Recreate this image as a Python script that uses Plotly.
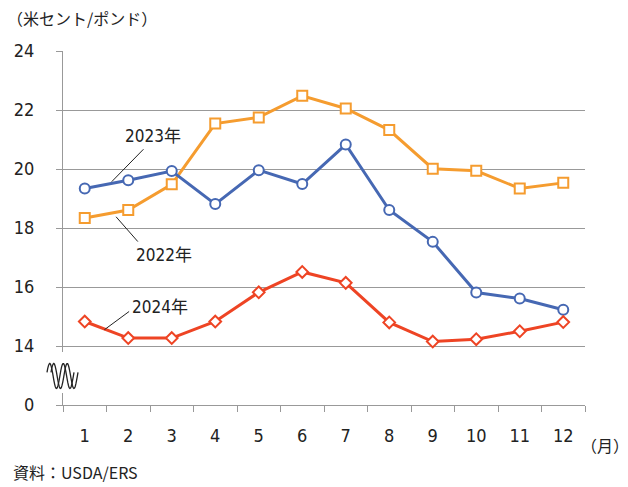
import numpy as np
import plotly.graph_objects as go

months = list(range(1, 13))
month_labels = [str(m) for m in months]
y2023 = [19.34, 19.62, 19.93, 18.81, 19.96, 19.49, 20.83, 18.61, 17.53, 15.81, 15.61, 15.23]
y2022 = [18.34, 18.61, 19.48, 21.54, 21.75, 22.48, 22.05, 21.32, 20.01, 19.94, 19.34, 19.53]
y2024 = [14.83, 14.27, 14.27, 14.83, 15.82, 16.51, 16.14, 14.80, 14.15, 14.23, 14.50, 14.81]
ytick_vals = [12, 14, 16, 18, 20, 22, 24]
ytick_text = ["0", "14", "16", "18", "20", "22", "24"]

BLUE = "#4668B3"
ORANGE = "#F59C2F"
RED = "#EE4424"
GRID = "#999999"
FONT = "DejaVu Sans Condensed, Roboto, sans-serif"
LFONT = "DejaVu Sans Condensed, Roboto, Noto Sans CJK JP, sans-serif"
JFONT = "Noto Sans CJK JP, sans-serif"

fig = go.Figure()
fig.add_trace(go.Scatter(x=months, y=y2022, mode="lines+markers",
                         line=dict(color=ORANGE, width=3),
                         marker=dict(symbol="square", size=10, color="white",
                                     line=dict(color=ORANGE, width=2)),
                         showlegend=False))
fig.add_trace(go.Scatter(x=months, y=y2023, mode="lines+markers",
                         line=dict(color=BLUE, width=3),
                         marker=dict(symbol="circle", size=10, color="white",
                                     line=dict(color=BLUE, width=2)),
                         showlegend=False))
fig.add_trace(go.Scatter(x=months, y=y2024, mode="lines+markers",
                         line=dict(color=RED, width=3),
                         marker=dict(symbol="diamond", size=9, color="white",
                                     line=dict(color=RED, width=2)),
                         showlegend=False))

L, R, T, B = 63, 43, 51, 82
W, H = 628, 487
pw, ph = W - L - R, H - T - B

def px(xp):
    return (xp - L) / pw

def py(yp):
    return (H - B - yp) / ph

shapes = []
# leader lines (data coords)
for (x0, y0, x1, y1) in [(1.62, 19.57, 2.35, 20.67), (1.72, 18.38, 2.22, 17.54), (1.45, 14.55, 2.02, 15.17)]:
    shapes.append(dict(type="line", xref="x", yref="y", x0=x0, y0=y0, x1=x1, y1=y1,
                       line=dict(color="#222222", width=1)))

# axis break: white cover over axis, then double wavy line
shapes.append(dict(type="rect", xref="paper", yref="paper",
                   x0=px(58), x1=px(68), y0=py(393), y1=py(352),
                   fillcolor="white", line=dict(width=0), layer="above"))
t = np.linspace(0, 1, 40)
for off in (0, 4):
    xs = 47 + off + 27 * t
    ys = 376 - 12.5 * np.sin(2 * np.pi * 2 * t + 0.3)
    path = "M " + " L ".join(f"{px(a):.5f},{py(b):.5f}" for a, b in zip(xs, ys))
    shapes.append(dict(type="path", xref="paper", yref="paper", path=path,
                       line=dict(color="#222222", width=1.3), layer="above"))

annotations = [
    dict(x=2.57, y=21.13, xref="x", yref="y", text="2023年", showarrow=False,
         font=dict(family=LFONT, size=17, color="#222222")),
    dict(x=2.83, y=17.09, xref="x", yref="y", text="2022年", showarrow=False,
         font=dict(family=LFONT, size=17, color="#222222")),
    dict(x=2.74, y=15.31, xref="x", yref="y", text="2024年", showarrow=False,
         font=dict(family=LFONT, size=17, color="#222222")),
    dict(x=px(5), y=py(18), xref="paper", yref="paper", text="（米セント/ポンド）",
         showarrow=False, xanchor="left", yanchor="middle",
         font=dict(family=JFONT, size=16, color="#222222")),
    dict(x=px(579), y=py(445), xref="paper", yref="paper", text="（月）",
         showarrow=False, xanchor="left", yanchor="middle",
         font=dict(family=JFONT, size=16, color="#222222")),
    dict(x=px(11), y=py(472), xref="paper", yref="paper", text="資料：USDA/ERS",
         showarrow=False, xanchor="left", yanchor="middle",
         font=dict(family=JFONT, size=16, color="#222222")),
]

fig.update_layout(
    width=W, height=H,
    margin=dict(l=L, r=R, t=T, b=B, autoexpand=False),
    paper_bgcolor="white", plot_bgcolor="white",
    shapes=shapes, annotations=annotations,
    xaxis=dict(range=[0.5, 12.5], tickvals=months, ticktext=month_labels,
               ticks="", showgrid=False, zeroline=False,
               showline=True, linecolor=GRID, linewidth=1,
               ticklabelstandoff=14, automargin=False,
               tickfont=dict(family=FONT, size=18, color="#222222"),
               minor=dict(tickvals=[m - 0.5 for m in months] + [12.5], ticks="outside",
                          ticklen=6, tickcolor=GRID, tickwidth=1, showgrid=False)),
    yaxis=dict(range=[12, 24], tickvals=ytick_vals, ticktext=ytick_text,
               ticks="outside", ticklen=6, tickcolor=GRID, tickwidth=1,
               showgrid=True, gridcolor=GRID, gridwidth=1, zeroline=False,
               showline=True, linecolor=GRID, linewidth=1,
               ticklabelstandoff=18, automargin=False,
               tickfont=dict(family=FONT, size=18, color="#222222")),
)

fig.write_html("out.html", config={"displayModeBar": False},
               post_script="document.body.style.margin='0';")
